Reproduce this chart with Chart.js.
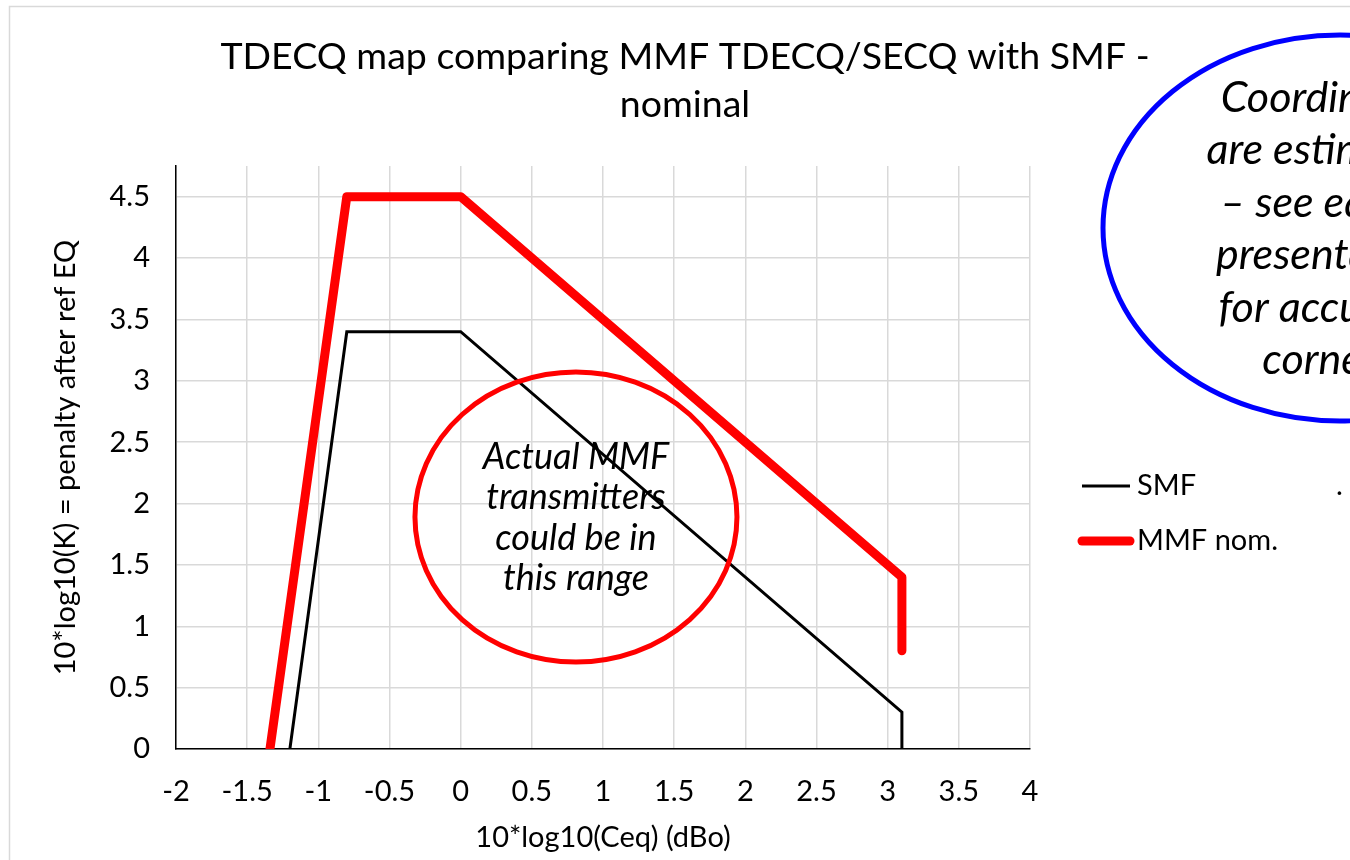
<!DOCTYPE html>
<html>
<head>
<meta charset="utf-8">
<script src="https://cdn.jsdelivr.net/npm/chart.js@4.4.1/dist/chart.umd.min.js"></script>
<style>
    html, body { margin: 0; padding: 0; background: #fff; }
    #wrap { width: 1350px; height: 860px; }
</style>
</head>
<body>
<div id="wrap"><canvas id="tdecqChart" width="1350" height="860"></canvas></div>
<script>
// values
const smfX = [-1.2, -0.8, 0, 3.1, 3.1];
const smfY = [0, 3.4, 3.4, 0.3, 0];
const mmfX = [-1.34, -0.8, 0, 3.1, 3.1];
const mmfY = [0, 4.5, 4.5, 1.4, 0.8];
const seriesLabels = ['SMF', 'MMF nom.'];
const yTickValues = [0, 0.5, 1, 1.5, 2, 2.5, 3, 3.5, 4, 4.5];
const titleLines = ['TDECQ map comparing MMF TDECQ/SECQ with SMF -', 'nominal'];
const rangeNote = ['Actual MMF', 'transmitters', 'could be in', 'this range'];
const coordNote = ['Coordinates', 'are estimated', '\u2013 see earlier', 'presentation', 'for accuracy', 'corners'];

const FONT = 'Lato, "Open Sans", sans-serif';
const AXIS_SIZE = 29;

function toPoints(xs, ys) {
    return xs.map((x, i) => ({ x: x, y: ys[i] }));
}

// plain number labels: -2, -1.5, 0, 4 ...
function plainLabel(value) {
    return String(Number(value.toFixed(2)));
}

// light grey frame of the chart object
const framePlugin = {
    id: 'frame',
    beforeDraw: (chart) => {
        const ctx = chart.ctx;
        ctx.save();
        ctx.strokeStyle = '#d9d9d9';
        ctx.lineWidth = 1.5;
        ctx.strokeRect(9.5, 6.5, 1400, 900);
        ctx.restore();
    }
};

function drawEllipse(ctx, cx, cy, rx, ry, color, width) {
    ctx.beginPath();
    ctx.ellipse(cx, cy, rx, ry, 0, 0, Math.PI * 2);
    ctx.strokeStyle = color;
    ctx.lineWidth = width;
    ctx.stroke();
}

function drawLines(ctx, lines, cx, cy0, step, size) {
    ctx.font = 'italic ' + size + 'px ' + FONT;
    ctx.fillStyle = '#000';
    ctx.textAlign = 'center';
    ctx.textBaseline = 'middle';
    lines.forEach((t, i) => ctx.fillText(t, cx, cy0 + i * step));
}

const notesPlugin = {
    id: 'notes',
    afterDraw: (chart) => {
        const ctx = chart.ctx;
        const xs = chart.scales.x;
        const ys = chart.scales.y;
        ctx.save();

        // red ellipse in the plot
        const cx = xs.getPixelForValue(0.81);
        const cy = ys.getPixelForValue(1.89);
        drawEllipse(ctx, cx, cy, 161, 145, '#ff0000', 5);
        drawLines(ctx, rangeNote, cx, cy - 60, 40.5, 36);

        // blue ellipse, cut off at the right edge
        drawEllipse(ctx, 1340, 228, 237, 193, '#0000ff', 5);
        drawLines(ctx, coordNote, 1328, 98, 52.5, 43);

        // legend
        ctx.font = AXIS_SIZE + 'px ' + FONT;
        ctx.textAlign = 'left';
        ctx.textBaseline = 'middle';
        const rows = [486, 541];
        chart.data.datasets.forEach((ds, i) => {
            ctx.beginPath();
            ctx.moveTo(1082, rows[i]);
            ctx.lineTo(1130, rows[i]);
            ctx.strokeStyle = ds.borderColor;
            ctx.lineWidth = ds.borderWidth;
            ctx.lineCap = ds.borderCapStyle || 'butt';
            ctx.stroke();
            ctx.fillStyle = '#000';
            ctx.fillText(ds.label, 1137, rows[i]);
        });
        ctx.fillText('.', 1336, 486);

        ctx.restore();
    }
};

new Chart('tdecqChart', {
    type: 'scatter',
    data: {
        datasets: [{
            label: seriesLabels[0],
            data: toPoints(smfX, smfY),
            showLine: true,
            borderColor: '#000000',
            backgroundColor: '#000000',
            borderWidth: 3,
            borderCapStyle: 'butt',
            borderJoinStyle: 'miter',
            pointRadius: 0
        }, {
            label: seriesLabels[1],
            data: toPoints(mmfX, mmfY),
            showLine: true,
            borderColor: '#ff0000',
            backgroundColor: '#ff0000',
            borderWidth: 9,
            borderCapStyle: 'round',
            borderJoinStyle: 'round',
            pointRadius: 0
        }]
    },
    options: {
        responsive: false,
        animation: false,
        layout: {
            padding: { left: 20, right: 0, top: 0, bottom: 0 }
        },
        plugins: {
            legend: { display: false },
            tooltip: { enabled: false },
            title: {
                display: true,
                text: titleLines,
                color: '#000',
                font: { family: FONT, size: 37.5, weight: 'normal', lineHeight: 48 / 37.5 },
                padding: { top: 33, bottom: 37 }
            }
        },
        scales: {
            x: {
                type: 'linear',
                min: -2,
                max: 4,
                ticks: {
                    stepSize: 0.5,
                    color: '#000',
                    padding: 25,
                    font: { family: FONT, size: AXIS_SIZE },
                    callback: plainLabel
                },
                grid: { color: '#d9d9d9', lineWidth: 1.5, drawTicks: false },
                border: { display: true, color: '#000', width: 1.5 },
                title: {
                    display: true,
                    text: '10*log10(Ceq) (dBo)',
                    color: '#000',
                    font: { family: FONT, size: AXIS_SIZE },
                    padding: { top: 0, bottom: 5 }
                },
                afterFit: (scale) => { scale.height = 111; }
            },
            y: {
                type: 'linear',
                min: 0,
                max: 4.75,
                afterBuildTicks: (scale) => {
                    scale.ticks = yTickValues.map((v) => ({ value: v }));
                },
                ticks: {
                    color: '#000',
                    padding: 26,
                    font: { family: FONT, size: AXIS_SIZE },
                    callback: plainLabel
                },
                grid: { color: '#d9d9d9', lineWidth: 1.5, drawTicks: false },
                border: { display: true, color: '#000', width: 1.5 },
                title: {
                    display: true,
                    text: '10*log10(K) = penalty after ref EQ',
                    color: '#000',
                    font: { family: FONT, size: AXIS_SIZE },
                    padding: { top: 28, bottom: 0 }
                },
                afterFit: (scale) => { scale.width = 156; }
            },
            yRight: {
                type: 'linear',
                position: 'right',
                display: true,
                ticks: { display: false },
                grid: { display: false, drawTicks: false },
                border: { display: false },
                afterFit: (scale) => { scale.width = 320; }
            }
        }
    },
    plugins: [framePlugin, notesPlugin]
});
</script>
</body>
</html>
